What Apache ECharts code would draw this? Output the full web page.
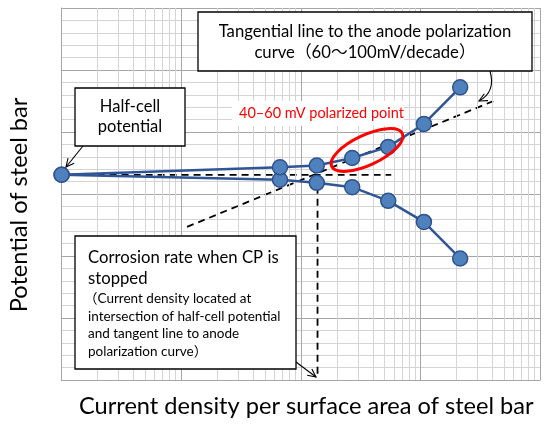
<!DOCTYPE html>
<html>
<head>
<meta charset="utf-8">
<script src="https://cdn.jsdelivr.net/npm/echarts@6/dist/echarts.min.js"></script>
<style>
html,body{margin:0;padding:0;background:#fff;}
#main{width:550px;height:424px;}
</style>
</head>
<body>
<div id="main"></div>
<script>
// schematic values: current density on a log scale, potential in arbitrary units
var halfCell = [1, 3.31];
var anodeX = [67, 136, 269, 538, 1070, 2150];
var anodeY = [3.43, 3.46, 3.58, 3.76, 4.13, 4.72];
var cathodeX = [67, 136, 269, 538, 1070, 2150];
var cathodeY = [3.23, 3.18, 3.11, 2.89, 2.55, 1.96];
var tangentLine = [[11.2, 2.47], [4080, 4.50]];
var halfCellLine = [[1, 3.31], [570, 3.31]];
var stopLine = [[138, 3.31], [138, 0.05]];
var decades = [1, 10, 100, 1000];

var FONT = 'Lato, "Noto Sans CJK JP", sans-serif';

function pairs(xs, ys) {
	var out = [halfCell];
	for (var i = 0; i < xs.length; i++) {
		out.push([xs[i], ys[i]]);
	}
	return out;
}

// light log grid lines 2..9 inside each decade
var minorX = [];
decades.forEach(function (d) {
	for (var k = 2; k <= 9; k++) {
		minorX.push({xAxis: d * k});
	}
});

// open arrow head at (x2,y2) pointing away from (x1,y1)
function arrowHead(x1, y1, x2, y2, len) {
	var a = Math.atan2(y2 - y1, x2 - x1);
	var s = 0.45;
	return [
		[x2 - len * Math.cos(a - s), y2 - len * Math.sin(a - s)],
		[x2, y2],
		[x2 - len * Math.cos(a + s), y2 - len * Math.sin(a + s)]
	];
}

function box(x, y, w, h) {
	return {
		type: 'rect', z: 100,
		shape: {x: x, y: y, width: w, height: h},
		style: {fill: '#fff', stroke: '#000', lineWidth: 1.3}
	};
}
function txt(str, x, y, size, align, color) {
	return {
		type: 'text', z: 101,
		style: {
			text: str, x: x, y: y,
			font: size + 'px ' + FONT,
			fill: color || '#000',
			align: align || 'left', verticalAlign: 'middle'
		}
	};
}
function line(pts, w) {
	return {
		type: 'polyline', z: 101,
		shape: {points: pts},
		style: {stroke: '#000', lineWidth: w || 1.1, fill: null}
	};
}

var graphics = [
	// half-cell potential
	box(75, 88, 110, 58),
	txt('Half-cell', 130, 107, 16.5, 'center'),
	txt('potential', 130, 127, 16.5, 'center'),
	line([[83, 146], [66, 167]]),
	line(arrowHead(83, 146, 66, 167, 9)),

	// tangent line
	box(198, 12, 334, 59),
	txt('Tangential line to the anode polarization', 365, 32, 16.7, 'center'),
	txt('curve（60～100mV/decade）', 365, 53, 16.7, 'center'),
	{
		type: 'bezierCurve', z: 101,
		shape: {x1: 490, y1: 71, cpx1: 496, cpy1: 92, x2: 479, y2: 101},
		style: {stroke: '#000', lineWidth: 1.1, fill: null}
	},
	line(arrowHead(496, 92, 479, 101, 9)),

	// polarized point
	{
		type: 'rect', z: 99,
		shape: {x: 232, y: 101, width: 172, height: 25},
		style: {fill: '#fff'}
	},
	txt('40–60 mV polarized point', 239, 113, 14.5, 'left', '#ff0000'),
	{
		type: 'ellipse', z: 101,
		x: 367, y: 150, rotation: 25 * Math.PI / 180,
		shape: {cx: 0, cy: 0, rx: 39, ry: 15},
		style: {stroke: '#ff0000', lineWidth: 3, fill: null}
	},

	// corrosion rate
	box(75, 236, 221, 133),
	txt('Corrosion rate when CP is', 88, 258, 16.7),
	txt('stopped', 88, 279, 16.7),
	txt('（Current density located at', 84, 299, 13.5),
	txt('intersection of half-cell potential', 88, 317, 13.5),
	txt('and tangent line to anode', 88, 334, 13.5),
	txt('polarization curve）', 88, 352, 13.5),
	line([[296, 362], [316, 377]]),
	line(arrowHead(296, 362, 316, 377, 9))
];

var dashed = {type: [7, 5], width: 1.8, color: '#000'};

var chart = echarts.init(document.getElementById('main'));
chart.setOption({
	animation: false,
	backgroundColor: '#fff',
	grid: {left: 60, right: 10, top: 8, bottom: 44},
	xAxis: {
		type: 'log', logBase: 10, min: 1, max: 10000,
		name: 'Current density per surface area of steel bar',
		nameLocation: 'middle', nameGap: 15,
		nameTextStyle: {fontSize: 23.6, fontFamily: FONT, color: '#000', padding: [0, 0, 0, 11]},
		axisLine: {show: true, lineStyle: {color: '#a6a6a6'}},
		axisTick: {show: false},
		axisLabel: {show: false},
		splitLine: {show: true, lineStyle: {color: '#a6a6a6'}}
	},
	yAxis: {
		type: 'value', min: 0, max: 6, interval: 1,
		name: 'Potential of steel bar',
		nameLocation: 'middle', nameGap: 30,
		nameTextStyle: {fontSize: 23.6, fontFamily: FONT, color: '#000', padding: [0, 22, 0, 0]},
		axisLine: {show: true, lineStyle: {color: '#a6a6a6'}},
		axisTick: {show: false},
		axisLabel: {show: false},
		minorTick: {show: false, splitNumber: 5},
		splitLine: {show: true, lineStyle: {color: '#a6a6a6'}},
		minorSplitLine: {show: true, lineStyle: {color: '#d4d4d4'}}
	},
	series: [
		{
			type: 'line', data: [], silent: true, z: 1,
			markLine: {
				silent: true, symbol: ['none', 'none'],
				label: {show: false},
				lineStyle: {color: '#d4d4d4', width: 1, type: 'solid'},
				emphasis: {disabled: true},
				data: minorX
			}
		},
		{type: 'line', data: halfCellLine, symbol: 'none', lineStyle: dashed, z: 3, silent: true},
		{type: 'line', data: stopLine, symbol: 'none', lineStyle: dashed, z: 3, silent: true},
		{type: 'line', data: tangentLine, symbol: 'none', lineStyle: dashed, z: 3, silent: true},
		{
			name: 'cathode', type: 'line', data: pairs(cathodeX, cathodeY), clip: false, z: 5,
			symbol: 'circle', symbolSize: 15,
			lineStyle: {color: '#2F5597', width: 2.5},
			itemStyle: {color: '#4F81BD', borderColor: '#2F528F', borderWidth: 1.5}
		},
		{
			name: 'anode', type: 'line', data: pairs(anodeX, anodeY), clip: false, z: 5,
			symbol: 'circle', symbolSize: 15,
			lineStyle: {color: '#2F5597', width: 2.5},
			itemStyle: {color: '#4F81BD', borderColor: '#2F528F', borderWidth: 1.5}
		}
	],
	graphic: graphics
});
</script>
</body>
</html>
